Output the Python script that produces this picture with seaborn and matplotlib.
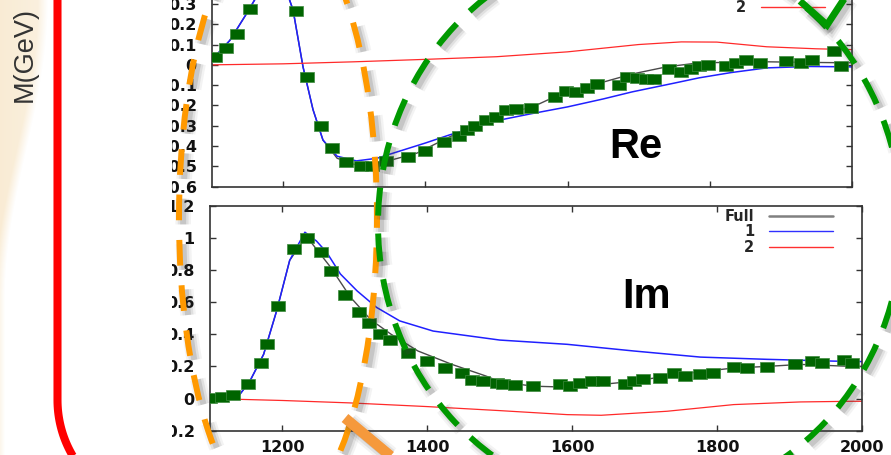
import numpy as np
import matplotlib
matplotlib.use("Agg")
import matplotlib.pyplot as plt
import matplotlib.patheffects as pe
from matplotlib.patches import Ellipse, Rectangle
from matplotlib.path import Path
from matplotlib.lines import Line2D
from matplotlib.ticker import FuncFormatter, MultipleLocator
import seaborn as sns

# ---------------- Re part ----------------
RE_PTS_M = [1104, 1119, 1135, 1153, 1170, 1186, 1202, 1218, 1233, 1253, 1269, 1289,
            1310, 1325, 1345, 1375, 1399, 1426, 1447, 1458, 1470, 1485, 1500, 1514,
            1528, 1549, 1582, 1598, 1612, 1628, 1642, 1673, 1684, 1698, 1711, 1722,
            1743, 1760, 1774, 1785, 1797, 1823, 1837, 1851, 1870, 1907, 1928, 1944,
            1975, 1984]
RE_PTS_V = [0.04, 0.085, 0.154, 0.276, 0.37, 0.42, 0.37, 0.263, -0.06, -0.30, -0.41, -0.48,
            -0.50, -0.50, -0.475, -0.455, -0.425, -0.38, -0.35, -0.32, -0.30, -0.27, -0.255, -0.22,
            -0.217, -0.213, -0.16, -0.13, -0.136, -0.113, -0.094, -0.10, -0.06, -0.064, -0.069, -0.069,
            -0.02, -0.033, -0.021, -0.008, -0.003, -0.008, 0.008, 0.025, 0.008, 0.021, 0.008, 0.025,
            0.066, -0.005]

RE_FULL_M = [1100, 1125, 1150, 1165, 1185, 1205, 1214, 1228, 1242, 1256, 1276, 1300, 1320,
             1340, 1388, 1434, 1481, 1506, 1551, 1582, 1645, 1691, 1739, 1785, 1880, 1940, 2000]
RE_FULL_V = [0.025, 0.12, 0.26, 0.35, 0.42, 0.36, 0.27, -0.01, -0.22, -0.37, -0.46, -0.49, -0.495,
             -0.48, -0.435, -0.355, -0.28, -0.246, -0.207, -0.157, -0.09, -0.045, -0.01, 0.01, 0.015, 0.012, 0.01]

RE_ONE_M = [1100, 1125, 1150, 1165, 1185, 1205, 1214, 1228, 1242, 1256, 1276, 1303, 1332, 1350,
            1400, 1434, 1500, 1550, 1600, 1650, 1691, 1750, 1785, 1830, 1880, 1940, 2000]
RE_ONE_V = [0.025, 0.12, 0.26, 0.35, 0.42, 0.36, 0.27, -0.01, -0.22, -0.37, -0.45, -0.473, -0.46, -0.44,
            -0.385, -0.345, -0.275, -0.24, -0.207, -0.168, -0.133, -0.09, -0.064, -0.038, -0.015, -0.008, -0.01]

RE_TWO_M = [1100, 1200, 1300, 1400, 1500, 1600, 1700, 1760, 1810, 1880, 1950, 2000]
RE_TWO_V = [0.0, 0.005, 0.015, 0.027, 0.04, 0.064, 0.10, 0.113, 0.112, 0.089, 0.079, 0.075]

# ---------------- Im part ----------------
IM_PTS_M = [1100, 1116, 1132, 1152, 1170, 1179, 1194, 1216, 1234, 1253, 1267, 1286, 1306, 1320,
            1335, 1349, 1374, 1399, 1425, 1448, 1461, 1477, 1496, 1505, 1521, 1546, 1583, 1597,
            1611, 1627, 1643, 1673, 1685, 1698, 1721, 1740, 1756, 1777, 1795, 1823, 1841, 1869,
            1908, 1931, 1945, 1975, 1986]
IM_PTS_V = [0.004, 0.01, 0.025, 0.0875, 0.22, 0.34, 0.577, 0.93, 1.0, 0.91, 0.796, 0.646, 0.54, 0.473,
            0.40, 0.3625, 0.285, 0.233, 0.1875, 0.156, 0.1125, 0.108, 0.098, 0.0875, 0.083, 0.077, 0.092, 0.077,
            0.098, 0.108, 0.108, 0.0875, 0.108, 0.119, 0.129, 0.16, 0.14, 0.154, 0.16, 0.196, 0.1875, 0.196,
            0.217, 0.233, 0.223, 0.2375, 0.223]

IM_FULL_M = [1100, 1120, 1141, 1155, 1174, 1192, 1210, 1233, 1266, 1294, 1322, 1350, 1387, 1434,
             1481, 1500, 1546, 1593, 1640, 1685, 1731, 1777, 1823, 1869, 1915, 1986, 2000]
IM_FULL_V = [0.0, 0.005, 0.025, 0.108, 0.275, 0.546, 0.86, 1.01, 0.82, 0.63, 0.49, 0.40, 0.296, 0.2125,
             0.14, 0.105, 0.077, 0.071, 0.0875, 0.108, 0.14, 0.167, 0.19, 0.20, 0.2125, 0.20, 0.20]

IM_ONE_M = [1100, 1120, 1141, 1155, 1174, 1192, 1210, 1231, 1247, 1261, 1280, 1303, 1330, 1362,
            1408, 1500, 1593, 1685, 1777, 1869, 1961, 2000]
IM_ONE_V = [0.0, 0.005, 0.025, 0.108, 0.275, 0.546, 0.86, 1.035, 0.98, 0.91, 0.775, 0.67, 0.567, 0.483,
            0.42, 0.364, 0.3375, 0.296, 0.258, 0.244, 0.233, 0.23]

IM_TWO_M = [1100, 1200, 1293, 1400, 1500, 1593, 1640, 1731, 1823, 1915, 1986, 2000]
IM_TWO_V = [0.0, -0.012, -0.027, -0.05, -0.075, -0.10, -0.104, -0.079, -0.0375, -0.021, -0.017, -0.017]

SERIES_NAMES = ["Full", "1", "2"]
X_RANGE = (1100, 2000)
RE_RANGE = (-0.6, 0.5)
IM_RANGE = (-0.2, 1.2)

sns.set_theme(style="ticks")
plt.rcParams["font.family"] = ["DejaVu Sans"]

W, H = 891, 455
fig = plt.figure(figsize=(W / 100, H / 100), dpi=100)
fig.patch.set_facecolor("white")


def box(l, t, r, b):
    return [l / W, 1 - b / H, (r - l) / W, (b - t) / H]


ax_re = fig.add_axes(box(212, -36.7, 852, 186.7))
ax_im = fig.add_axes(box(210, 205.7, 862, 430.7))

# wide filled rectangles for the data points
rect_marker = Path([(-0.72, -0.5), (0.72, -0.5), (0.72, 0.5), (-0.72, 0.5), (-0.72, -0.5)],
                   [Path.MOVETO, Path.LINETO, Path.LINETO, Path.LINETO, Path.CLOSEPOLY])

LINE_STYLE = {"Full": ("#4a4a4a", 1.0), "1": ("#2020ff", 1.1), "2": ("#ff2a2a", 0.9)}


def draw_panel(ax, pts_m, pts_v, curves, yrange, ystep):
    for name, (m, v) in zip(SERIES_NAMES, curves):
        col, lw = LINE_STYLE[name]
        sns.lineplot(x=m, y=v, ax=ax, color=col, linewidth=lw, sort=False,
                     estimator=None, zorder=2, legend=False)
    sns.scatterplot(x=pts_m, y=pts_v, ax=ax, marker=rect_marker, s=100, color="#006400",
                    edgecolor="#3d8a3d", linewidth=0.5, zorder=3, legend=False)
    ax.set_xlim(*X_RANGE)
    ax.set_ylim(*yrange)
    ax.set_xlabel("")
    ax.set_ylabel("")
    ax.xaxis.set_major_locator(MultipleLocator(200))
    ax.yaxis.set_major_locator(MultipleLocator(ystep))
    ax.yaxis.set_major_formatter(FuncFormatter(lambda v, p: f"{round(v, 3) + 0:g}"))
    ax.tick_params(direction="in", length=4, width=1.0, color="#333333", top=True, right=True,
                   labelsize=11.5, labelcolor="#111111")
    ax.tick_params(axis="y", pad=11)
    ax.tick_params(axis="x", pad=7)
    for lab in ax.get_xticklabels() + ax.get_yticklabels():
        lab.set_fontweight("bold")
    for sp in ax.spines.values():
        sp.set_color("#333333")
        sp.set_linewidth(1.2)
        sp.set_visible(True)
    ax.grid(False)
    ax.set_facecolor("white")


def add_key(ax, anchor):
    handles = [Line2D([], [], color="#808080", lw=1.8),
               Line2D([], [], color="#3030ff", lw=1.0),
               Line2D([], [], color="#ff3030", lw=1.0)]
    ax.legend(handles, SERIES_NAMES, loc="upper right", bbox_to_anchor=anchor,
              markerfirst=False, frameon=False, handlelength=4.4, handletextpad=1.0,
              labelspacing=0.02, borderpad=0, borderaxespad=0,
              prop={"weight": "bold", "size": 10.5})


draw_panel(ax_re, RE_PTS_M, RE_PTS_V,
           [(RE_FULL_M, RE_FULL_V), (RE_ONE_M, RE_ONE_V), (RE_TWO_M, RE_TWO_V)], RE_RANGE, 0.1)
ax_re.tick_params(labelbottom=False)
add_key(ax_re, (0.958, 0.971))

draw_panel(ax_im, IM_PTS_M, IM_PTS_V,
           [(IM_FULL_M, IM_FULL_V), (IM_ONE_M, IM_ONE_V), (IM_TWO_M, IM_TWO_V)], IM_RANGE, 0.2)
add_key(ax_im, (0.9555, 0.985))

# ---------------- slide decoration layer (pixel coordinates) ----------------
ov = fig.add_axes([0, 0, 1, 1], zorder=10)
ov.set_xlim(0, W)
ov.set_ylim(H, 0)
ov.axis("off")
ov.patch.set_visible(False)

# beige paper strip on the far left
gx = np.arange(60)[None, :] + 0.5
gy = np.arange(H)[:, None] + 0.5
width = 5 + 43 * 0.5 * (1 + np.cos(np.pi * np.clip(gy / 300, 0, 1)))
alpha = 0.75 * np.clip((width - gx) / 10, 0, 1) * (1 - 0.35 * gx / 60)
beige = np.zeros((H, 60, 4))
beige[..., 0], beige[..., 1], beige[..., 2] = 0.97, 0.90, 0.78
beige[..., 3] = alpha
ov.imshow(beige, extent=(0, 60, H, 0), aspect="auto", zorder=0.5, interpolation="bilinear")
ov.set_xlim(0, W)
ov.set_ylim(H, 0)

# white frame area hiding the leftmost part of the tick labels
ov.add_patch(Rectangle((62, -5), 110, H + 10, facecolor="white", edgecolor="none", zorder=1))

# red rounded frame
R = 110
t = np.linspace(np.pi, np.pi / 2, 60)
fx = np.concatenate([[57.5, 57.5], 57.5 + R + R * np.cos(t)])
fy = np.concatenate([[-5, 400], 400 + R * np.sin(t)])
ov.plot(fx, fy, color="#ff0000", lw=5.8, solid_capstyle="butt", solid_joinstyle="round", zorder=2)

ov.text(25, 55, "M(GeV)", rotation=90, ha="center", va="center", fontsize=19.5,
        color="#333333", family=["Liberation Sans", "DejaVu Sans"], zorder=2)

ov.text(636, 158, "Re", ha="center", va="baseline", fontsize=30, fontweight="bold",
        color="black", family=["Liberation Sans", "DejaVu Sans"], zorder=2)
ov.text(647, 308, "Im", ha="center", va="baseline", fontsize=30, fontweight="bold",
        color="black", family=["Liberation Sans", "DejaVu Sans"], zorder=2)


def shadow(lw):
    return [pe.SimpleLineShadow(offset=(3, -3), shadow_color="#404040", alpha=0.06, linewidth=lw + 7),
            pe.SimpleLineShadow(offset=(3, -3), shadow_color="#404040", alpha=0.10, linewidth=lw + 3.5),
            pe.SimpleLineShadow(offset=(3, -3), shadow_color="#404040", alpha=0.16, linewidth=lw),
            pe.Normal()]


orange = Ellipse((278, 218), 198, 600, fill=False, edgecolor="#ff9900", lw=4.3,
                 linestyle=(0, (4.3, 3.3)), capstyle="butt", zorder=5)
orange.set_path_effects(shadow(4.3))
ov.add_patch(orange)

green = Ellipse((640, 224), 524, 560, fill=False, edgecolor="#009900", lw=4.3,
                linestyle=(8, (4.7, 3.0)), capstyle="butt", zorder=5)
green.set_path_effects(shadow(4.3))
ov.add_patch(green)

tick_mark, = ov.plot([800, 827, 846], [1, 25, -4], color="#009900", lw=5.0,
                     solid_joinstyle="miter", solid_capstyle="butt", zorder=5)
tick_mark.set_path_effects(shadow(5.0))

pointer, = ov.plot([345, 405], [418, 468], color="#f5993c", lw=7.5,
                   solid_capstyle="butt", zorder=5)
pointer.set_path_effects(shadow(7.5))

fig.savefig("out.png", dpi=100, facecolor="white")
